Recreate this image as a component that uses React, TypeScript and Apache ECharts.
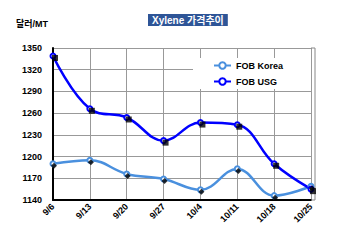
import React, { useEffect, useRef } from "react";
import * as echarts from "echarts";

const categories = ["9/6", "9/13", "9/20", "9/27", "10/4", "10/11", "10/18", "10/25"];
const fobKorea = [1190, 1195, 1176, 1169, 1154, 1183, 1146, 1159];
const fobUsg = [1339, 1266, 1254, 1222, 1247, 1244, 1190, 1155];
const seriesNames = ["FOB Korea", "FOB USG"];
const titleText = "Xylene 가격추이";
const unitText = "달러/MT";

const FONT = "'Liberation Sans', Arial, 'Noto Sans CJK KR', sans-serif";

export default function App() {
  const ref = useRef<HTMLDivElement>(null);
  useEffect(() => {
    document.body.style.margin = "0";
    if (!ref.current) return;
    const chart = echarts.init(ref.current, null, { renderer: "svg" });
    chart.setOption({
      animation: false,
      backgroundColor: "#ffffff",
      textStyle: { fontFamily: FONT },
      title: {
        text: titleText,
        left: 148,
        top: 14,
        padding: [1, 4, 1, 4],
        backgroundColor: "#2E5597",
        textStyle: { color: "#ffffff", fontSize: 10, fontWeight: "bold", fontFamily: FONT },
      },
      graphic: [
        {
          type: "text",
          left: 16,
          top: 19,
          style: { text: unitText, fontSize: 9, fontWeight: "bold", fill: "#000", fontFamily: FONT },
        },
        {
          type: "polyline",
          shape: { points: [[311, 48], [315, 48], [315, 200], [311, 200]] },
          style: { stroke: "#888", lineWidth: 1, fill: "none" },
          z: 1,
        },
      ],
      legend: {
        data: seriesNames,
        orient: "vertical",
        left: 193,
        top: 58,
        padding: [3, 28, 3, 20],
        backgroundColor: "#ffffff",
        itemWidth: 17,
        itemHeight: 8,
        itemGap: 7,
        textStyle: { fontSize: 9, fontWeight: "bold", color: "#000", fontFamily: FONT },
        z: 10,
      },
      grid: { left: 53, top: 48, right: 39, bottom: 45, containLabel: false },
      xAxis: {
        type: "category",
        data: categories,
        boundaryGap: false,
        axisLine: { lineStyle: { color: "#000", width: 2 } },
        axisTick: { show: false },
        axisLabel: { rotate: 45, fontSize: 9, fontWeight: "bold", color: "#000", margin: 5, fontFamily: FONT },
        splitLine: { show: true, lineStyle: { color: "#999", width: 1 } },
      },
      yAxis: {
        type: "value",
        min: 1140,
        max: 1350,
        interval: 30,
        axisLine: { show: true, lineStyle: { color: "#000", width: 2 } },
        axisTick: { show: false },
        axisLabel: {
          fontSize: 9,
          fontWeight: "bold",
          color: "#000",
          margin: 11,
          fontFamily: FONT,
          formatter: (v: number) => String(v),
        },
        splitLine: { show: true, lineStyle: { color: "#999", width: 1 } },
      },
      series: [
        {
          name: seriesNames[0],
          type: "line",
          data: fobKorea,
          smooth: 0.4,
          symbol: "emptyCircle",
          symbolSize: 5,
          lineStyle: { color: "#4A90DE", width: 2.5 },
          itemStyle: { color: "#4A90DE", borderColor: "#8AB8EE", borderWidth: 1 },
          z: 3,
        },
        {
          name: seriesNames[1],
          type: "line",
          data: fobUsg,
          smooth: 0.4,
          symbol: "emptyCircle",
          symbolSize: 5,
          lineStyle: { color: "#0000FF", width: 2.5 },
          itemStyle: { color: "#0000FF", borderColor: "#7F8FFF", borderWidth: 1 },
          z: 3,
        },
        {
          name: "koreaMarks",
          type: "scatter",
          data: fobKorea,
          symbol: "diamond",
          symbolSize: 6,
          symbolOffset: [1, 2],
          itemStyle: { color: "#000" },
          z: 4,
        },
        {
          name: "usgMarks",
          type: "scatter",
          data: fobUsg,
          symbol: "rect",
          symbolSize: 6,
          symbolOffset: [2, 2],
          itemStyle: { color: "#000" },
          z: 4,
        },
      ],
    });
    return () => chart.dispose();
  }, []);
  return <div ref={ref} style={{ width: 350, height: 245 }} />;
}
